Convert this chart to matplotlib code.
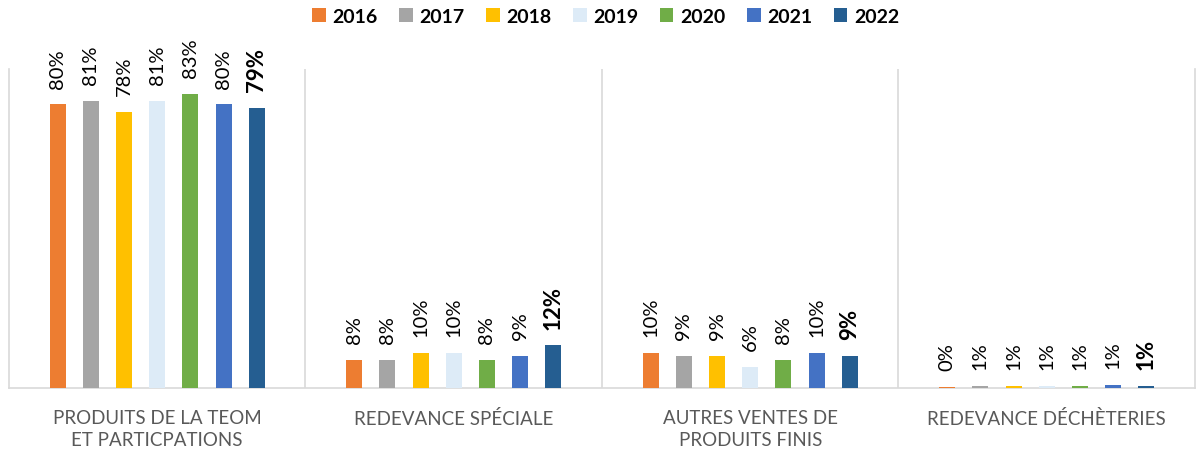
import matplotlib
matplotlib.use("Agg")
import matplotlib.pyplot as plt
import numpy as np

plt.rcParams['font.family'] = ['Lato', 'DejaVu Sans']

categories = ["PRODUITS DE LA TEOM\nET PARTICPATIONS", "REDEVANCE SPÉCIALE",
              "AUTRES VENTES DE\nPRODUITS FINIS", "REDEVANCE DÉCHÈTERIES"]
years = ["2016", "2017", "2018", "2019", "2020", "2021", "2022"]
# one list per year, in category order (percent)
v2016 = [80, 8, 10, 0.3]
v2017 = [81, 8, 9, 0.6]
v2018 = [78, 10, 9, 0.6]
v2019 = [81, 10, 6, 0.6]
v2020 = [83, 8, 8, 0.7]
v2021 = [80, 9, 10, 0.9]
v2022 = [79, 12, 9, 0.7]
series = [v2016, v2017, v2018, v2019, v2020, v2021, v2022]
colors = ["#ED7D31", "#A5A5A5", "#FFC000", "#DDEBF7", "#70AD47", "#4472C4", "#255E91"]

fig = plt.figure(figsize=(11.97, 4.56), dpi=100)
ax = fig.add_axes([9/1197, 1-389/456, (1195-9)/1197, (389-70)/456])

x = np.arange(len(categories))
step = 0.112
width = 0.054
for i, (yr, vals, c) in enumerate(zip(years, series, colors)):
    pos = x + (i - 3) * step
    ax.bar(pos, vals, width, color=c, label=yr, zorder=3)
    last = (i == len(years) - 1)
    for px, v in zip(pos, vals):
        ax.annotate(f"{v:.0f}%", (px, v), xytext=(0, 12), textcoords="offset points",
                    rotation=90, ha="center", va="bottom",
                    fontsize=16 if last else 14.5,
                    fontweight="bold" if last else "normal", color="black")

ax.set_xlim(-0.5, len(categories) - 0.5)
ax.set_ylim(0, 90)
ax.set_yticks([])
ax.set_xticks(x)
ax.set_xticklabels(categories, fontsize=13.5, color="#595959", linespacing=1.35)
ax.tick_params(axis="x", length=0, pad=15)

ax.spines["top"].set_visible(False)
for s in ["left", "right", "bottom"]:
    ax.spines[s].set_color("#D9D9D9")
    ax.spines[s].set_linewidth(1.2)
for b in x[:-1] + 0.5:
    ax.axvline(b, color="#D9D9D9", lw=1.2, zorder=1)

leg = fig.legend(loc="center", bbox_to_anchor=(0.506, 0.962), ncol=7, frameon=False,
                 handlelength=0.7, handleheight=0.7, handletextpad=0.35,
                 columnspacing=1.1, prop={"weight": "bold", "size": 14})

fig.savefig("out.png", dpi=100)
